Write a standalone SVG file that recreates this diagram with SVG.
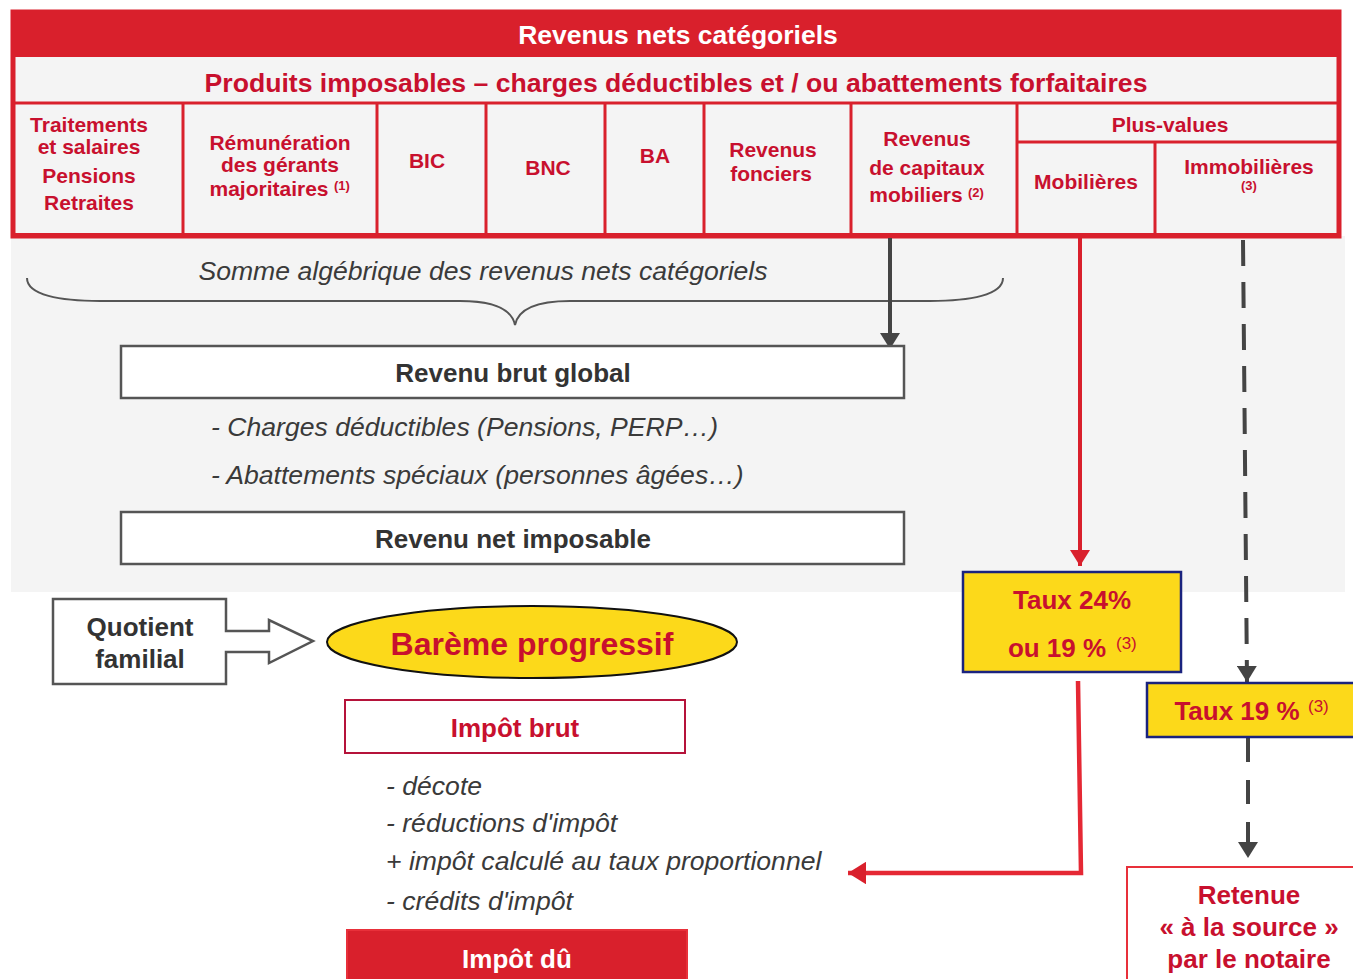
<svg xmlns="http://www.w3.org/2000/svg" width="1353" height="979" viewBox="0 0 1353 979">
<style>
.b{font-family:"Liberation Sans",Arial,sans-serif;font-weight:bold}
.i{font-family:"Liberation Sans",Arial,sans-serif;font-style:italic;fill:#3a3a3a;font-size:26.6px}
.red{fill:#c8102e}
.col{font-size:21px;text-anchor:middle}
.sup{font-size:13px}
.dk{fill:#333;font-size:26px;text-anchor:middle}
.sep{stroke:#d9202c;stroke-width:3}
.box{fill:#fff;stroke:#555;stroke-width:2.5}
.yel{fill:#fcd91a;stroke:#1a237e;stroke-width:2.5}
.rs{font-family:"Liberation Sans",Arial,sans-serif;font-size:17px;fill:#c8102e}
</style>
<defs>
<marker id="ag" markerWidth="4" markerHeight="5" refX="4" refY="2.5" orient="auto" markerUnits="strokeWidth"><path d="M0,0 L4,2.5 L0,5 Z" fill="#444"/></marker>
<marker id="ar" markerWidth="4" markerHeight="5" refX="4" refY="2.5" orient="auto" markerUnits="strokeWidth"><path d="M0,0 L4,2.5 L0,5 Z" fill="#d9202c"/></marker>
</defs>
<rect width="1353" height="979" fill="#fff"/>
<rect x="11" y="236" width="1334" height="356" fill="#f4f4f4"/>

<g id="header">
<rect x="13" y="12" width="1326" height="224" fill="#f4f4f4" stroke="#d9202c" stroke-width="5"/>
<rect x="11" y="10" width="1330" height="47" fill="#d9202c"/>
<rect x="11" y="233" width="1330" height="5" fill="#d9202c"/>
<text x="678" y="44" class="b" font-size="26.5" fill="#fff" text-anchor="middle">Revenus nets catégoriels</text>
<text x="676" y="92" class="b red" font-size="26.6" text-anchor="middle">Produits imposables – charges déductibles et / ou abattements forfaitaires</text>
<line x1="15" y1="103" x2="1337" y2="103" class="sep"/>
<line x1="183" y1="104" x2="183" y2="234" class="sep"/>
<line x1="377" y1="104" x2="377" y2="234" class="sep"/>
<line x1="486" y1="104" x2="486" y2="234" class="sep"/>
<line x1="605" y1="104" x2="605" y2="234" class="sep"/>
<line x1="704" y1="104" x2="704" y2="234" class="sep"/>
<line x1="851" y1="104" x2="851" y2="234" class="sep"/>
<line x1="1017" y1="104" x2="1017" y2="234" class="sep"/>
<line x1="1017" y1="142" x2="1337" y2="142" class="sep"/>
<line x1="1155" y1="142" x2="1155" y2="234" class="sep"/>
<g class="b red col">
<text x="89" y="132">Traitements</text>
<text x="89" y="154">et salaires</text>
<text x="89" y="183">Pensions</text>
<text x="89" y="210">Retraites</text>
<text x="280" y="150">Rémunération</text>
<text x="280" y="172">des gérants</text>
<text x="269" y="196">majoritaires</text>
<text x="427" y="168">BIC</text>
<text x="548" y="175">BNC</text>
<text x="655" y="163">BA</text>
<text x="773" y="157">Revenus</text>
<text x="771" y="181">fonciers</text>
<text x="927" y="146">Revenus</text>
<text x="927" y="175">de capitaux</text>
<text x="916" y="202">mobiliers</text>
<text x="1170" y="132">Plus-values</text>
<text x="1086" y="189">Mobilières</text>
<text x="1249" y="174">Immobilières</text>
</g>
<text x="334" y="190" class="b red sup">(1)</text>
<text x="968" y="197" class="b red sup">(2)</text>
<text x="1241" y="190" class="b red sup">(3)</text>
</g>

<g id="connectors" fill="none">
<path d="M27,278 C27,295 60,301 100,301 L460,301 C495,301 512,310 515,325 C518,310 535,301 570,301 L930,301 C970,301 1003,295 1003,278" stroke="#555" stroke-width="2"/>
<line x1="890" y1="238" x2="890" y2="349" stroke="#444" stroke-width="4" marker-end="url(#ag)"/>
<line x1="1080" y1="238" x2="1080" y2="566" stroke="#d9202c" stroke-width="4" marker-end="url(#ar)"/>
<line x1="1243" y1="240" x2="1247" y2="682" stroke="#444" stroke-width="4" stroke-dasharray="26 16" marker-end="url(#ag)"/>
<line x1="1248" y1="738" x2="1248" y2="858" stroke="#444" stroke-width="4" stroke-dasharray="24 18" marker-end="url(#ag)"/>
<polyline points="1078,681 1081,873 848,873" stroke="#e52834" stroke-width="4.5" marker-end="url(#ar)"/>
</g>

<g id="somme"><text x="483" y="280" class="i" text-anchor="middle">Somme algébrique des revenus nets catégoriels</text></g>

<g id="revenu-brut">
<rect x="121" y="346" width="783" height="52" class="box"/>
<text x="513" y="382" class="b dk">Revenu brut global</text>
</g>
<g id="deductions">
<text x="211" y="436" class="i">- Charges déductibles (Pensions, PERP…)</text>
<text x="211" y="484" class="i">- Abattements spéciaux (personnes âgées…)</text>
</g>
<g id="revenu-net">
<rect x="121" y="512" width="783" height="52" class="box"/>
<text x="513" y="548" class="b dk">Revenu net imposable</text>
</g>

<g id="quotient">
<path d="M226,599 L53,599 L53,684 L226,684 L226,652 L269,652 L269,663 L313,641 L269,620 L269,631 L226,631 Z" class="box"/>
<text x="140" y="636" class="b dk">Quotient</text>
<text x="140" y="668" class="b dk">familial</text>
</g>

<g id="bareme">
<ellipse cx="532" cy="642" rx="205" ry="36" fill="#fcd91a" stroke="#111" stroke-width="2"/>
<text x="532" y="655" class="b red" font-size="32" text-anchor="middle">Barème progressif</text>
</g>

<g id="impot-brut">
<rect x="345" y="700" width="340" height="53" fill="#fff" stroke="#b5133a" stroke-width="2"/>
<text x="515" y="737" class="b red" font-size="26" text-anchor="middle">Impôt brut</text>
</g>
<g id="corrections">
<text x="386" y="795" class="i">- décote</text>
<text x="386" y="832" class="i">- réductions d'impôt</text>
<text x="386" y="870" class="i">+ impôt calculé au taux proportionnel</text>
<text x="386" y="910" class="i">- crédits d'impôt</text>
</g>
<g id="impot-du">
<rect x="347" y="930" width="340" height="52" fill="#d9202c" stroke="#e8303a" stroke-width="2"/>
<text x="517" y="968" class="b" font-size="26" fill="#fff" text-anchor="middle">Impôt dû</text>
</g>

<g id="taux24">
<rect x="963" y="572" width="218" height="100" class="yel"/>
<text x="1072" y="609" class="b red" font-size="26" text-anchor="middle">Taux 24%</text>
<text x="1057" y="657" class="b red" font-size="26" text-anchor="middle">ou 19 %</text>
<text x="1116" y="649" class="rs">(3)</text>
</g>
<g id="taux19">
<rect x="1147" y="683" width="208" height="54" class="yel"/>
<text x="1237" y="720" class="b red" font-size="26" text-anchor="middle">Taux 19 %</text>
<text x="1308" y="712" class="rs">(3)</text>
</g>
<g id="retenue">
<rect x="1127" y="867" width="230" height="115" fill="#fff" stroke="#e8303a" stroke-width="2"/>
<text x="1249" y="904" class="b red" font-size="26" text-anchor="middle">Retenue</text>
<text x="1249" y="936" class="b red" font-size="26" text-anchor="middle">« à la source »</text>
<text x="1249" y="968" class="b red" font-size="26" text-anchor="middle">par le notaire</text>
</g>
</svg>
